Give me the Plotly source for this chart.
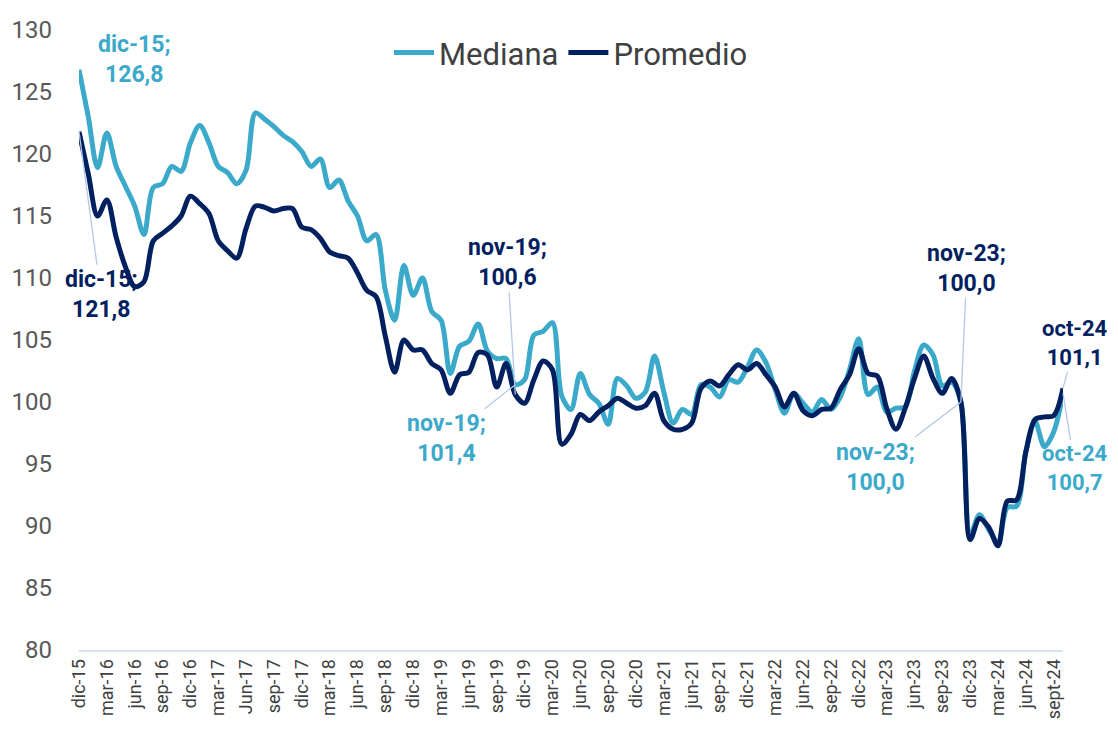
import plotly.graph_objects as go

# ---- data ----
month_abbr = ["ene", "feb", "mar", "abr", "may", "jun", "jul", "ago", "sep", "oct", "nov", "dic"]
months = ["dic-15"] + [f"{m}-{y:02d}" for y in range(16, 25) for m in month_abbr if not (y == 24 and month_abbr.index(m) > 9)]

mediana = [
    126.8, 123.0, 118.9, 121.7, 119.0, 117.4, 115.8, 113.5, 117.3, 117.6,
    119.0, 118.6, 120.9, 122.3, 120.9, 119.0, 118.5, 117.6, 118.7, 123.3,
    122.8, 122.2, 121.5, 121.0, 120.2, 119.0, 119.6, 117.3, 117.9, 116.2,
    115.0, 113.0, 113.5, 109.0, 106.6, 111.0, 108.6, 110.0, 107.3, 106.6,
    102.3, 104.5, 104.9, 106.3, 104.1, 103.5, 103.5, 101.4, 101.8, 105.4,
    105.7, 106.4, 100.5, 99.4, 102.3, 100.6, 99.9, 98.2, 101.9, 101.3,
    100.3, 100.8, 103.7, 100.8, 98.3, 99.4, 99.0, 101.4, 101.2, 100.4,
    101.8, 101.6, 102.8, 104.2, 103.2, 101.0, 99.1, 100.7, 99.9, 99.2,
    100.2, 99.4, 100.4, 102.6, 105.1, 100.6, 101.2, 99.2, 99.5, 99.6,
    102.5, 104.6, 103.8, 101.3, 101.6, 100.0, 89.3, 90.9, 89.7, 88.7,
    91.5, 91.6, 96.0, 98.4, 96.4, 97.6, 100.7,
]

promedio = [
    121.8, 118.4, 115.0, 116.3, 113.3, 110.9, 109.3, 109.7, 113.0, 113.6,
    114.2, 115.0, 116.6, 116.0, 115.2, 113.0, 112.2, 111.6, 114.0, 115.8,
    115.7, 115.4, 115.6, 115.6, 114.1, 113.9, 113.2, 112.1, 111.8, 111.6,
    110.4, 109.0, 108.5, 105.3, 102.4, 105.0, 104.2, 104.2, 103.1, 102.6,
    100.7, 102.2, 102.4, 104.0, 103.8, 101.2, 103.1, 100.6, 99.9, 101.8,
    103.3, 102.6, 96.6, 97.4, 99.0, 98.5, 99.2, 99.7, 100.3, 99.9,
    99.5, 99.7, 100.7, 98.5, 97.8, 97.8, 98.3, 101.1, 101.7, 101.3,
    102.2, 103.0, 102.6, 103.1, 102.2, 101.2, 99.6, 100.7, 99.3, 98.9,
    99.4, 99.5, 101.0, 102.2, 104.3, 102.3, 102.1, 99.5, 97.8, 99.5,
    101.9, 103.7, 101.9, 100.7, 101.9, 100.0, 88.9, 90.6, 89.9, 88.4,
    92.0, 92.1, 96.0, 98.6, 98.8, 98.9, 101.1,
]

tick_labels = ["dic-15", "mar-16", "jun-16", "sep-16", "dic-16", "mar-17", "Jun-17", "sep-17",
               "dic-17", "mar-18", "jun-18", "sep-18", "dic-18", "mar-19", "jun-19", "sep-19",
               "dic-19", "mar-20", "jun-20", "sep-20", "dic-20", "mar-21", "jun-21", "sep-21",
               "dic-21", "mar-22", "jun-22", "sep-22", "dic-22", "mar-23", "jun-23", "sep-23",
               "dic-23", "mar-24", "jun-24", "sept-24"]

x_idx = list(range(len(months)))
tick_idx = list(range(0, len(months), 3))[:len(tick_labels)]

C_MED = "#3BA9C9"
C_PRO = "#002060"
LEADER = "#B4C7E7"
FONT = "Roboto"
ANN_SIZE = 23

fig = go.Figure()
fig.add_trace(go.Scatter(x=x_idx, y=mediana, name="Mediana", mode="lines",
                         line=dict(color=C_MED, width=5, shape="spline", smoothing=0.9),
                         customdata=months, hovertemplate="%{customdata}: %{y}<extra></extra>"))
fig.add_trace(go.Scatter(x=x_idx, y=promedio, name="Promedio", mode="lines",
                         line=dict(color=C_PRO, width=5, shape="spline", smoothing=0.9),
                         customdata=months, hovertemplate="%{customdata}: %{y}<extra></extra>"))

def fmt(v):
    return f"{v:.1f}".replace(".", ",")

def label(i, series, color, ax, ay, sep=";", arrow=True, size=ANN_SIZE):
    v = series[i]
    fig.add_annotation(x=i, y=v, xref="x", yref="y",
                       text=f"<b>{months[i]}{sep}<br>{fmt(v)}</b>",
                       showarrow=arrow, arrowhead=0, arrowwidth=1.3, arrowcolor=LEADER,
                       ax=ax, ay=ay, standoff=0,
                       font=dict(family=FONT, size=size, color=color), align="center")

i_nov19 = months.index("nov-19")
i_nov23 = months.index("nov-23")
i_last = len(months) - 1

# dic-15 labels
fig.add_annotation(x=0, y=mediana[0], xref="x", yref="y",
                   text=f"<b>{months[0]};<br>{fmt(mediana[0])}</b>", showarrow=False,
                   xshift=55, yshift=10, font=dict(family=FONT, size=ANN_SIZE, color=C_MED))
label(0, promedio, C_PRO, 22, 163)
label(i_nov19, promedio, C_PRO, -8, -132)
label(i_nov19, mediana, C_MED, -69, 54)
label(i_nov23, promedio, C_PRO, 6, -134)
label(i_nov23, mediana, C_MED, -85, 65)
label(i_last, promedio, C_PRO, 12, -45, sep="", size=22)
label(i_last, mediana, C_MED, 12, 75, sep="", size=22)

fig.update_layout(
    width=1110, height=720,
    margin=dict(l=71, r=55, t=22, b=78, autoexpand=False),
    paper_bgcolor="white", plot_bgcolor="white",
    font=dict(family=FONT, color="#404040"),
    showlegend=True,
    legend=dict(orientation="h", x=0.5, xanchor="center", y=0.963, yanchor="middle",
                font=dict(family=FONT, size=31, color="#404040"), bgcolor="rgba(0,0,0,0)",
                itemwidth=40),
    xaxis=dict(range=[0, len(months) - 1], tickmode="array", tickvals=tick_idx, ticktext=tick_labels,
               tickangle=-90, showgrid=False, zeroline=False, showline=True, automargin=False,
               linecolor="#D9E2F0", linewidth=2, ticks="",
               tickfont=dict(family=FONT, size=18, color="#404040")),
    yaxis=dict(range=[80, 130], dtick=5, showgrid=False, zeroline=False, showline=False,
               ticks="", ticklabelstandoff=26, automargin=False,
               tickfont=dict(family=FONT, size=24, color="#595959")),
)

fig.write_html("out.html")
